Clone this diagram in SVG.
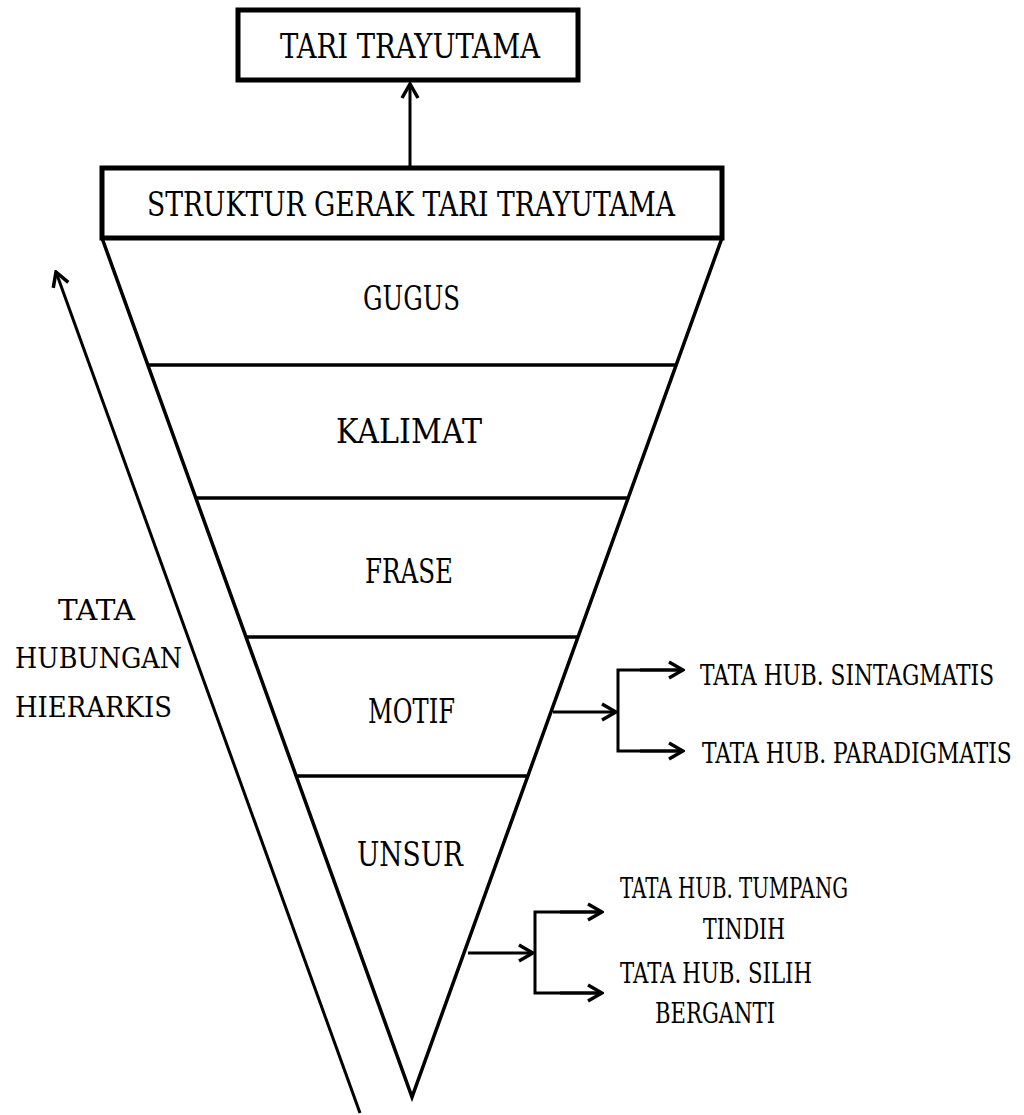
<svg xmlns="http://www.w3.org/2000/svg" width="1024" height="1115" viewBox="0 0 1024 1115">
<style>
.t{font-family:"DejaVu Serif","Liberation Serif",serif;fill:#000}
.big{font-size:34px}
.sm{font-size:28px}
.box{fill:#fff;stroke:#000;stroke-width:5}
.ln{fill:none;stroke:#000;stroke-width:3.5}
.thin{fill:none;stroke:#000;stroke-width:3}
</style>
<defs>
<marker id="ah" viewBox="0 0 20 20" refX="18" refY="10" markerWidth="20" markerHeight="20" markerUnits="userSpaceOnUse" orient="auto">
<path d="M4,2 L18,10 L4,18" fill="none" stroke="#000" stroke-width="3.5"/>
</marker>
</defs>
<rect width="1024" height="1115" fill="#fff"/>
<g id="pyramid">
<path class="ln" d="M102,238 L412,1097 L722,238"/>
<line class="ln" x1="148" y1="365" x2="676" y2="365"/>
<line class="ln" x1="196" y1="498" x2="628" y2="498"/>
<line class="ln" x1="246" y1="637" x2="578" y2="637"/>
<line class="ln" x1="296" y1="776" x2="528" y2="776"/>
</g>
<g id="tari-trayutama">
<rect class="box" x="238" y="10" width="340" height="70"/>
<text class="t big" x="280" y="58" textLength="260" lengthAdjust="spacingAndGlyphs">TARI TRAYUTAMA</text>
</g>
<g id="struktur">
<rect class="box" x="102" y="168" width="620" height="70"/>
<text class="t big" x="147" y="216" textLength="528" lengthAdjust="spacingAndGlyphs">STRUKTUR GERAK TARI TRAYUTAMA</text>
</g>
<g id="gugus"><text class="t big" x="363" y="310" textLength="97" lengthAdjust="spacingAndGlyphs">GUGUS</text></g>
<g id="kalimat"><text class="t big" x="336" y="443" textLength="146" lengthAdjust="spacingAndGlyphs">KALIMAT</text></g>
<g id="frase"><text class="t big" x="365" y="583" textLength="88" lengthAdjust="spacingAndGlyphs">FRASE</text></g>
<g id="motif"><text class="t big" x="368" y="723" textLength="87" lengthAdjust="spacingAndGlyphs">MOTIF</text></g>
<g id="unsur"><text class="t big" x="357" y="866" textLength="106" lengthAdjust="spacingAndGlyphs">UNSUR</text></g>
<g id="tata-hubungan-hierarkis">
<text class="t sm" x="58" y="620" textLength="77" lengthAdjust="spacingAndGlyphs">TATA</text>
<text class="t sm" x="15" y="668" textLength="167" lengthAdjust="spacingAndGlyphs">HUBUNGAN</text>
<text class="t sm" x="15" y="717" textLength="157" lengthAdjust="spacingAndGlyphs">HIERARKIS</text>
</g>
<g id="sintagmatis"><text class="t sm" transform="translate(700,685) scale(0.75,1)" x="0" y="0" textLength="392" lengthAdjust="spacingAndGlyphs">TATA HUB. SINTAGMATIS</text></g>
<g id="paradigmatis"><text class="t sm" transform="translate(702,763) scale(0.75,1)" x="0" y="0" textLength="413" lengthAdjust="spacingAndGlyphs">TATA HUB. PARADIGMATIS</text></g>
<g id="tumpang-tindih">
<text class="t sm" x="620" y="898" textLength="228" lengthAdjust="spacingAndGlyphs">TATA HUB. TUMPANG</text>
<text class="t sm" x="703" y="939" textLength="82" lengthAdjust="spacingAndGlyphs">TINDIH</text>
</g>
<g id="silih-berganti">
<text class="t sm" x="620" y="983" textLength="192" lengthAdjust="spacingAndGlyphs">TATA HUB. SILIH</text>
<text class="t sm" x="655" y="1023" textLength="120" lengthAdjust="spacingAndGlyphs">BERGANTI</text>
</g>
<g id="connectors">
<line class="thin" x1="410" y1="166" x2="410" y2="84" marker-end="url(#ah)"/>
<line class="thin" x1="360" y1="1113" x2="56" y2="272" marker-end="url(#ah)"/>
<line class="thin" x1="553" y1="712" x2="616" y2="712" marker-end="url(#ah)"/>
<polyline class="thin" points="683,670 618,670 618,751 683,751"/>
<line class="thin" x1="640" y1="670" x2="683" y2="670" marker-end="url(#ah)"/>
<line class="thin" x1="640" y1="751" x2="683" y2="751" marker-end="url(#ah)"/>
<line class="thin" x1="468" y1="953" x2="533" y2="953" marker-end="url(#ah)"/>
<polyline class="thin" points="602,912 535,912 535,993 602,993"/>
<line class="thin" x1="560" y1="912" x2="602" y2="912" marker-end="url(#ah)"/>
<line class="thin" x1="560" y1="993" x2="602" y2="993" marker-end="url(#ah)"/>
</g>
</svg>
